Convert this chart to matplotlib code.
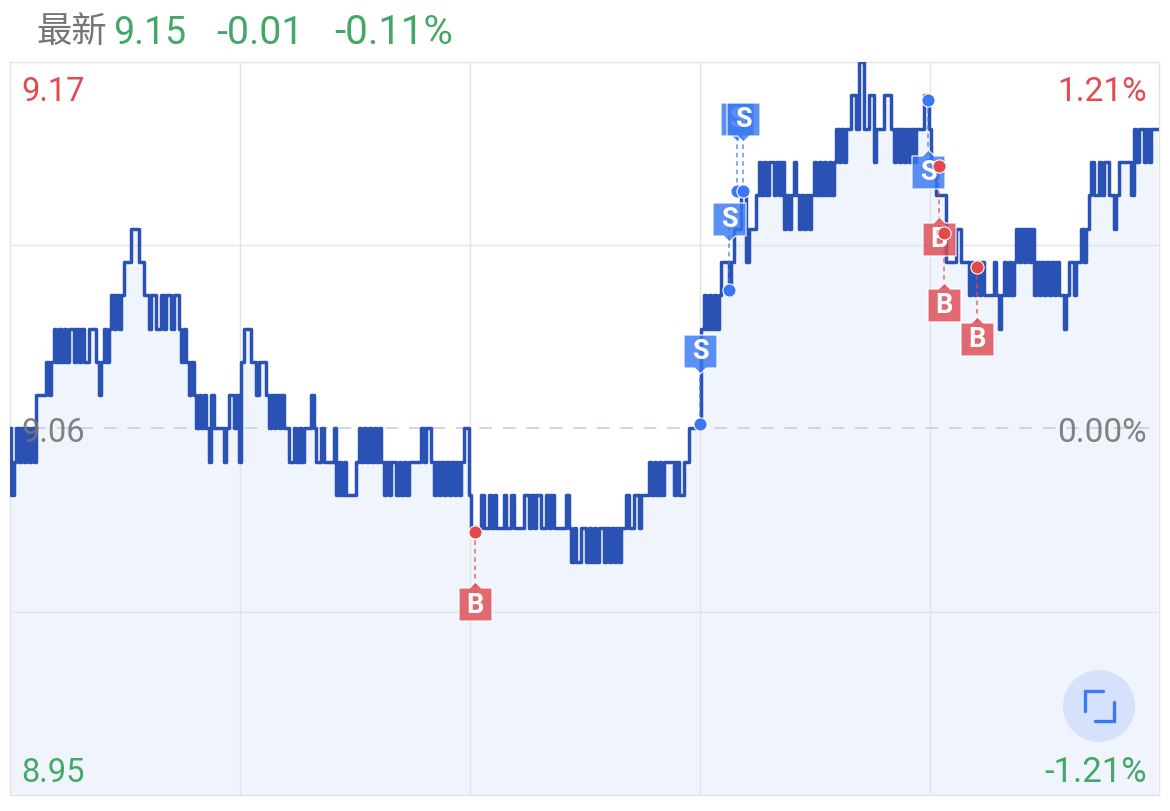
"""Intraday price line with buy / sell flags."""
import matplotlib
matplotlib.use("Agg")
import matplotlib.pyplot as plt
from matplotlib.path import Path
from matplotlib.patches import Circle
import numpy as np

# Palette
C_LINE = "#2a52b5"
C_FILL = "#eff4fd"
C_GRID = "#e4e4e6"
C_MID = "#c8d3e3"
C_RED = "#e5484d"
C_GREEN = "#43a866"
C_GRAY = "#757575"
C_BUY = (0.875, 0.29, 0.32, 0.82)
C_SELL = (0.22, 0.47, 0.95, 0.82)
C_DOT_BUY = "#e54848"
C_DOT_SELL = "#3a76f5"

PRE_CLOSE = 9.06
PRICE_MIN = 8.95
PRICE_MAX = 9.17

# price in cents above 9.00, one value per sample
PRICE_CENTS = [
    6, 4, 5, 6, 5, 6, 5, 6, 5, 6, 5, 7, 7, 7, 7, 8, 7, 8, 9, 8,
    9, 8, 9, 8, 9, 9, 8, 9, 8, 9, 8, 8, 9, 9, 9, 8, 7, 8, 9, 8,
    9, 10, 9, 10, 9, 10, 11, 11, 11, 12, 12, 12, 11, 11, 10, 10, 9, 10, 10, 9,
    9, 10, 9, 10, 10, 9, 10, 10, 9, 8, 9, 8, 7, 8, 7, 6, 7, 6, 7, 6,
    5, 7, 6, 6, 6, 6, 5, 6, 7, 7, 6, 7, 5, 8, 9, 9, 9, 8, 8, 7,
    8, 8, 8, 7, 6, 7, 6, 7, 6, 7, 6, 6, 5, 5, 6, 5, 6, 5, 6, 6,
    6, 7, 6, 5, 5, 6, 5, 5, 5, 5, 6, 4, 5, 4, 5, 4, 4, 4, 4, 5,
    6, 5, 6, 5, 6, 5, 6, 5, 6, 5, 4, 5, 4, 5, 5, 4, 5, 4, 5, 4,
    5, 5, 5, 5, 5, 6, 5, 6, 6, 5, 4, 5, 4, 5, 4, 5, 4, 5, 4, 5,
    4, 5, 6, 6, 4, 3, 3, 3, 3, 4, 3, 3, 4, 3, 4, 3, 3, 3, 4, 3,
    3, 4, 3, 3, 3, 3, 4, 4, 3, 4, 3, 4, 4, 3, 3, 4, 3, 4, 3, 3,
    3, 3, 3, 4, 3, 2, 3, 2, 2, 3, 3, 2, 3, 2, 3, 2, 3, 3, 2, 3,
    2, 3, 2, 3, 2, 3, 3, 4, 3, 3, 4, 4, 3, 4, 4, 4, 5, 4, 5, 4,
    5, 4, 5, 5, 5, 5, 4, 5, 4, 4, 5, 5, 6, 6, 6, 6, 6, 9, 10, 9,
    10, 9, 10, 9, 10, 11, 11, 11, 10, 11, 12, 12, 12, 13, 13, 11, 12, 12, 12, 13,
    14, 13, 14, 13, 14, 14, 13, 14, 13, 14, 12, 13, 12, 13, 14, 13, 12, 13, 12, 13,
    12, 13, 14, 13, 14, 13, 14, 13, 14, 13, 14, 15, 14, 15, 14, 15, 15, 16, 16, 15,
    17, 17, 15, 15, 16, 16, 14, 15, 15, 15, 16, 16, 16, 15, 14, 15, 14, 15, 14, 15,
    14, 15, 14, 15, 15, 15, 16, 16, 15, 14, 14, 13, 13, 13, 13, 11, 11, 11, 11, 12,
    12, 11, 11, 11, 10, 11, 10, 11, 10, 11, 10, 10, 10, 10, 11, 10, 9, 10, 11, 10,
    11, 10, 11, 12, 11, 12, 11, 12, 11, 12, 10, 11, 10, 11, 10, 11, 10, 11, 10, 11,
    10, 10, 9, 10, 11, 11, 10, 11, 11, 12, 11, 12, 13, 14, 13, 13, 14, 13, 14, 14,
    13, 13, 12, 13, 14, 14, 14, 14, 14, 13, 15, 14, 15, 15, 14, 15, 14, 15, 15, 15,
]

# vertical grid positions on the sample axis
GRID_SAMPLES = [92, 184, 276, 368]

# trades: sample, price of the dot, price of the flag
BUY_SAMPLES = [186, 371.6, 373.6, 386.8]
BUY_PRICES = [9.0288, 9.1389, 9.1188, 9.1086]
BUY_FLAGS = [9.0072, 9.117, 9.0972, 9.087]

SELL_SAMPLES = [276, 287.6, 290.8, 293.2, 367.2]
SELL_PRICES = [9.0615, 9.1017, 9.1314, 9.1314, 9.1587]
SELL_FLAGS = [9.0834, 9.123, 9.153, 9.153, 9.1371]

W, H = 1170, 812
LEFT, RIGHT, TOP, BOTTOM = 10, 1159, 63, 796
SAMPLE_PX = 2.5


def flag_path(tip_up):
    tip = 1.36 if tip_up else -1.36
    if tip_up:
        verts = [(-1, -1), (1, -1), (1, 1), (0.36, 1), (0, tip), (-0.36, 1), (-1, 1), (-1, -1)]
    else:
        verts = [(-1, -1), (-0.36, -1), (0, tip), (0.36, -1), (1, -1), (1, 1), (-1, 1), (-1, -1)]
    return Path(verts, closed=True)


prices = 9 + np.array(PRICE_CENTS) / 100
samples = np.arange(len(prices))

fig = plt.figure(figsize=(W / 100, H / 100), dpi=100, facecolor="white")
ax = fig.add_axes([LEFT / W, 1 - BOTTOM / H, (RIGHT - LEFT) / W, (BOTTOM - TOP) / H])
ax.set_xlim(0, (RIGHT - LEFT) / SAMPLE_PX)
ax.set_ylim(PRICE_MIN, PRICE_MAX)
ax.set_xticks([])
ax.set_yticks([])
for spine in ax.spines.values():
    spine.set_color(C_GRID)
    spine.set_linewidth(1.0)

ax.fill_between(samples, prices, PRICE_MIN, step="mid", color=C_FILL, lw=0, zorder=1)
for s in GRID_SAMPLES:
    ax.axvline(s, color=C_GRID, lw=1.0, zorder=2)
for p in [(PRICE_MAX + PRE_CLOSE) / 2, (PRICE_MIN + PRE_CLOSE) / 2]:
    ax.axhline(p, color=C_GRID, lw=1.0, zorder=2)
ax.axhline(PRE_CLOSE, color=C_MID, lw=1.3, dashes=(7, 6), zorder=2)
ax.plot(samples, prices, color=C_LINE, lw=2.5, drawstyle="steps-mid", solid_joinstyle="round", zorder=3)

# connectors, flags, dots
trades = [
    (BUY_SAMPLES, BUY_PRICES, BUY_FLAGS, C_BUY, C_DOT_BUY, "B"),
    (SELL_SAMPLES, SELL_PRICES, SELL_FLAGS, C_SELL, C_DOT_SELL, "S"),
]
z = 5.0
for xs, ys, flags, c_flag, c_dot, letter in reversed(trades):
    for x, y, f in zip(xs, ys, flags):
        ax.plot([x, x], [y, f], color=c_dot, lw=1.1, dashes=(3, 2.5), alpha=0.8, zorder=4)
        # each flag sits over the letter of the one before it
        ax.plot(x, f, marker=flag_path(f < y), ms=32.3, mfc=c_flag, mec="white", mew=0.8,
                ls="none", zorder=z, clip_on=False)
        ax.text(x, f, letter, color="white", fontsize=19.5, fontweight="bold", family="Roboto",
                ha="center", va="center", zorder=z + 0.01)
        z += 0.02
    ax.plot(xs, ys, "o", ms=9.5, mfc=c_dot, mec="white", mew=0.8, ls="none", zorder=7)

# page chrome in pixel coordinates
top = fig.add_axes([0, 0, 1, 1], facecolor="none")
top.set_xlim(0, W)
top.set_ylim(H, 0)
top.axis("off")

top.text(36, 32, "最新", color=C_GRAY, fontsize=25.5, va="center", family=["Noto Sans CJK SC", "DejaVu Sans"])
for x, s, fs in zip([113.5, 216, 334], ["9.15", "-0.01", "-0.11%"], [27, 28.3, 29]):
    top.text(x, 33, s, color=C_GREEN, fontsize=fs, va="center", family="Roboto")

top.text(21.5, 92, "9.17", color=C_RED, fontsize=23.5, va="center", family="Roboto")
top.text(1147, 92, "1.21%", color=C_RED, fontsize=24, va="center", ha="right", family="Roboto")
top.text(21.5, 433, "9.06", color=C_GRAY, alpha=0.9, fontsize=23.5, va="center", family="Roboto")
top.text(1147, 433, "0.00%", color=C_GRAY, alpha=0.9, fontsize=24, va="center", ha="right", family="Roboto")
top.text(21.5, 773, "8.95", color=C_GREEN, fontsize=23.5, va="center", family="Roboto")
top.text(1147, 773, "-1.21%", color=C_GREEN, fontsize=25, va="center", ha="right", family="Roboto")

# fullscreen button
top.add_patch(Circle((1099, 707), 36, color="#d6e2fb", lw=0))
top.plot([1085, 1085, 1103], [712, 692, 692], color="#3b78f5", lw=2.4, solid_capstyle="round", solid_joinstyle="miter")
top.plot([1095, 1114, 1114], [722, 722, 703], color="#3b78f5", lw=2.4, solid_capstyle="round", solid_joinstyle="miter")

fig.savefig("out.png", dpi=100, facecolor="white")
